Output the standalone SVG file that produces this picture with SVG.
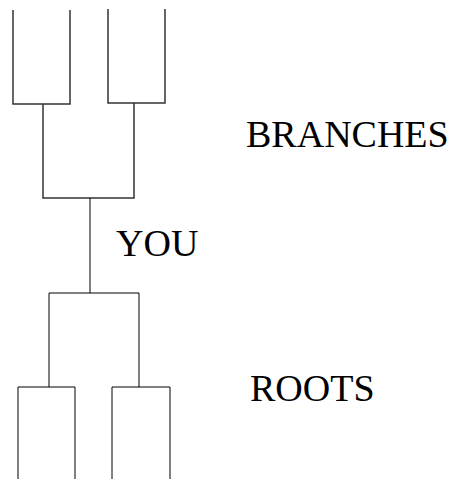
<svg xmlns="http://www.w3.org/2000/svg" width="459" height="479" viewBox="0 0 459 479">
<style>
.top{fill:none;stroke:#333;stroke-width:1.5}
.bot{fill:none;stroke:#000;stroke-width:1}
.lbl{font-size:38px;fill:#000}
</style>
<rect width="459" height="479" fill="#fff"/>
<g id="connectors">
<path class="top" d="M13,10V104H70V10"/>
<path class="top" d="M108,9V103H165V9"/>
<path class="top" d="M43,104V198H134V103"/>
<path class="bot" d="M90,198V293"/>
<path class="bot" d="M49,387V293H139V387"/>
<path class="bot" d="M18,479V387H75V479"/>
<path class="bot" d="M112,479V387H170V479"/>
</g>
<g id="branches"><text class="lbl" font-family="Liberation Serif, DejaVu Serif, serif" x="246" y="147">BRANCHES</text></g>
<g id="you"><text class="lbl" font-family="Liberation Serif, DejaVu Serif, serif" x="116" y="256">YOU</text></g>
<g id="roots"><text class="lbl" font-family="Liberation Serif, DejaVu Serif, serif" x="250" y="401">ROOTS</text></g>
</svg>
